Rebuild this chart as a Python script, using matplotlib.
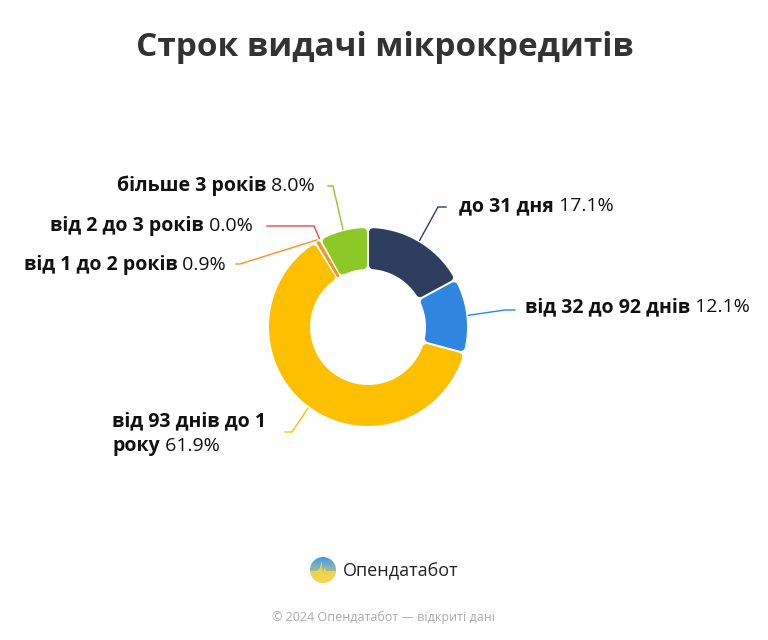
import numpy as np
import matplotlib
matplotlib.use("Agg")
import matplotlib.pyplot as plt
from matplotlib.patches import Polygon, Circle

plt.rcParams['font.family'] = ['Open Sans', 'DejaVu Sans']

# data
title = "Строк видачі мікрокредитів"
categories = ["до 31 дня", "від 32 до 92 днів", "від 93 днів до 1\nроку",
              "від 1 до 2 років", "від 2 до 3 років", "більше 3 років"]
shares = [17.1, 12.1, 61.9, 0.9, 0.0, 8.0]
colors = ["#2d3e5e", "#2e86de", "#fcc000", "#f7941d", "#e84a4f", "#8cc926"]
footer = "© 2024 Опендатабот — відкриті дані"
brand = "Опендатабот"

W, H = 768, 640
fig = plt.figure(figsize=(W / 100, H / 100), dpi=100)
ax = fig.add_axes([0, 0, 1, 1])
ax.set_xlim(0, W)
ax.set_ylim(0, H)
ax.axis('off')

# donut geometry (pixels, y up)
cx, cy = 368, H - 327
R_out, R_in = 99, 58
gap, rnd = 2.0, 4.0
px2pt = 72 / fig.dpi

vals = np.array(shares, dtype=float)
fr = vals / vals.sum()
ends = 90 - 360 * np.cumsum(fr)          # clockwise from top
starts = np.concatenate([[90], ends[:-1]])


def ring_poly(a_hi, a_lo, d):
    # a_hi > a_lo in degrees, inset by gap/2 + d on each side
    ro, ri = R_out - d, R_in + d
    span = np.deg2rad(a_hi - a_lo)
    oo = min((gap / 2 + d) / ro, span / 2 - 1e-3)
    oi = min((gap / 2 + d) / ri, span / 2 - 1e-3)
    t_out = np.linspace(np.deg2rad(a_hi) - oo, np.deg2rad(a_lo) + oo, 60)
    t_in = np.linspace(np.deg2rad(a_lo) + oi, np.deg2rad(a_hi) - oi, 60)
    xs = np.concatenate([cx + ro * np.cos(t_out), cx + ri * np.cos(t_in)])
    ys = np.concatenate([cy + ro * np.sin(t_out), cy + ri * np.sin(t_in)])
    return np.column_stack([xs, ys])


mids = []
for s, e, c in zip(starts, ends, colors):
    mids.append((s + e) / 2)
    if s - e <= 0:
        continue
    arc_in = np.deg2rad(s - e) * R_in
    d = max(1.2, min(rnd, (arc_in - gap) / 2))
    poly = Polygon(ring_poly(s, e, d), closed=True, facecolor=c, edgecolor=c,
                   linewidth=2 * d * px2pt, joinstyle='round', zorder=2)
    ax.add_patch(poly)

# leader lines: (elbow x, elbow y, end x) in image pixels
elbows = [(438, 207, 446), (505, 310, 515), (292, 432, 285),
          (240, 264, 236), (314, 226, 267), (333, 186, 328)]
for m, c, (ex, ey, hx) in zip(mids, colors, elbows):
    a = np.deg2rad(m)
    x0, y0 = cx + (R_out + 2) * np.cos(a), cy + (R_out + 2) * np.sin(a)
    ax.plot([x0, ex, hx], [y0, H - ey, H - ey], color=c, lw=1.0,
            solid_joinstyle='miter', zorder=1)

renderer = fig.canvas.get_renderer()
fs = 14


def rich(x, y, bold, normal, ha):
    y = H - y
    if ha == 'left':
        t = ax.text(x, y, bold, fontsize=fs, fontweight='bold', ha='left',
                    va='center', color='#111111')
        bb = t.get_window_extent(renderer)
        ax.text(bb.x1, y, ' ' + normal, fontsize=fs, ha='left', va='center',
                color='#111111')
    else:
        t = ax.text(x, y, ' ' + normal, fontsize=fs, ha='right', va='center',
                    color='#111111')
        bb = t.get_window_extent(renderer)
        ax.text(bb.x0, y, bold, fontsize=fs, fontweight='bold', ha='right',
                va='center', color='#111111')


pct = [f"{v:.1f}%" for v in shares]
rich(459, 206, categories[0], pct[0], 'left')
rich(525, 307, categories[1], pct[1], 'left')
line1, line2 = categories[2].split('\n')
ax.text(112, H - 421, line1, fontsize=fs, fontweight='bold', ha='left',
        va='center', color='#111111')
rich(112, 446, line2, pct[2], 'left')
rich(226, 265, categories[3], pct[3], 'right')
rich(253, 226, categories[4], pct[4], 'right')
rich(315, 186, categories[5], pct[5], 'right')

# title
ax.text(W / 2 + 0.5, H - 47, title, fontsize=24, fontweight='bold', ha='center',
        va='center', color='#333333')

# logo
lx, ly, lr = 323, H - 570, 13
grad = np.linspace(0, 1, 100)[:, None] * np.ones((1, 100))
top = np.array([0x3d, 0x9b, 0xe9]) / 255
bot = np.array([0xf9, 0xd6, 0x49]) / 255
img = top[None, None, :] * (1 - grad[..., None]) + bot[None, None, :] * grad[..., None]
im = ax.imshow(img, extent=(lx - lr, lx + lr, ly - lr, ly + lr), origin='upper',
               zorder=3, interpolation='bilinear')
clip = Circle((lx, ly), lr, transform=ax.transData)
im.set_clip_path(clip)
wave_x = np.array([-13, -6, -3, -1.5, 0, 1.5, 3, 6, 13]) + lx
wave_y = np.array([-1, -1, 2, 9, -3, 3, -1, -1, -1]) + ly
wave = Polygon(np.column_stack([np.r_[wave_x, lx + 13, lx - 13], np.r_[wave_y, ly - 13, ly - 13]]),
               closed=True, facecolor='#f9d649', edgecolor='none', zorder=4, alpha=0.85)
ax.add_patch(wave)
wave.set_clip_path(Circle((lx, ly), lr, transform=ax.transData))
ax.text(343, H - 571, brand, fontsize=13, ha='left', va='center', color='#222222')

ax.text(W / 2, H - 617, footer, fontsize=9, ha='center', va='center', color='#aaaaaa')

fig.savefig("out.png", dpi=100, facecolor='white')
